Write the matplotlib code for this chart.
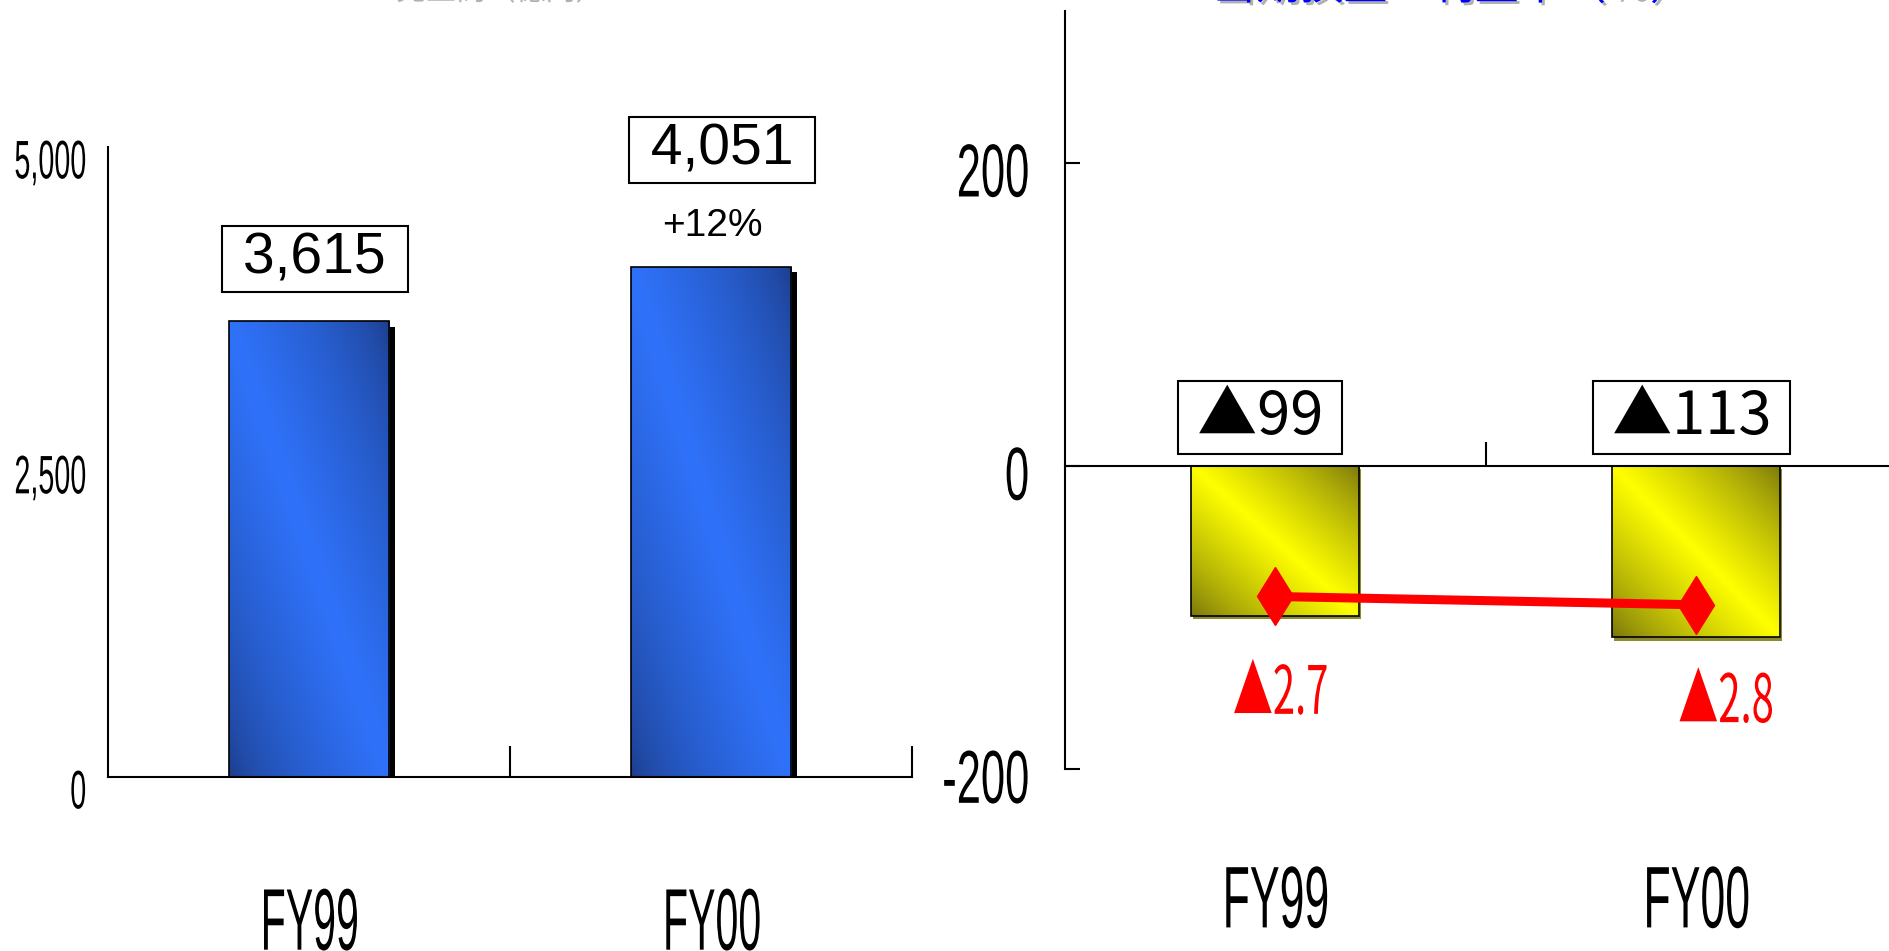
"""
Sales (FY99 vs FY00) and net income / margin, two panels side by side.
Recreated from a slide chart; the original used a tall condensed gothic face.
"""

import matplotlib
matplotlib.use("Agg")

import matplotlib.pyplot as plt
import matplotlib.patheffects as pe
from matplotlib.transforms import Affine2D, ScaledTranslation
import numpy as np

# ── data ────────────────────────────────────────────────────────────────────
years = ["FY99", "FY00"]
sales = [3615, 4051]            # 売上高
sales_growth = "+12%"
net_income = [-99, -113]        # 当期損益
net_margin = [-2.7, -2.8]       # 利益率 (%)
sales_ticks = [0, 2500, 5000]
income_ticks = [-200, 0, 200]
titles = ["売上高（億円）", "当期損益・利益率（％）"]

NARROW = ["Liberation Sans Narrow", "Liberation Sans", "DejaVu Sans"]
REG = ["Liberation Sans", "DejaVu Sans"]
CJK = ["Noto Sans CJK JP", "DejaVu Sans"]

plt.rcParams["font.family"] = NARROW


class Squeeze(pe.AbstractPathEffect):
    """Squash text glyphs horizontally about an anchor."""

    def __init__(self, sx=0.65, anchor="center"):
        super().__init__()
        self.sx = sx
        self.anchor = anchor

    def draw_path(self, renderer, gc, tpath, affine, rgbFace=None):
        ext = tpath.get_extents()
        cx = {"center": (ext.x0 + ext.x1) / 2, "right": ext.x1, "left": ext.x0}[self.anchor]
        squash = Affine2D().translate(-cx, 0).scale(self.sx, 1).translate(cx, 0)
        renderer.draw_path(gc, tpath, squash + affine, rgbFace)


def fmt_signed(v, nd=0):
    s = f"{abs(v):,.{nd}f}"
    return ("▲" + s) if v < 0 else s


def gradient_bars(ax, bars, dark, bright, gamma=1.0):
    dark = np.array(matplotlib.colors.to_rgb(dark))
    bright = np.array(matplotlib.colors.to_rgb(bright))
    u = np.linspace(0, 1, 200)
    U, V = np.meshgrid(u, u)
    s = (1 - np.abs(U + V - 1)) ** gamma
    img = dark + (bright - dark) * s[..., None]
    for b in bars:
        x0, y0, w, h = b.get_x(), b.get_y(), b.get_width(), b.get_height()
        im = ax.imshow(img, extent=(x0, x0 + w, min(y0, y0 + h), max(y0, y0 + h)),
                       origin="lower", aspect="auto", interpolation="bilinear", zorder=2.5)
        im.set_clip_path(b)


def shift_labels(fig, labels, dy_px, sx, anchor):
    for lab in labels:
        lab.set_path_effects([Squeeze(sx, anchor)])
        if dy_px:
            lab.set_verticalalignment("baseline")
            lab.set_transform(lab.get_transform()
                              + ScaledTranslation(0, -dy_px / fig.dpi, fig.dpi_scale_trans))


fig = plt.figure(figsize=(18.89, 9.51), dpi=100)
x = np.arange(len(years))

# ── left: sales ─────────────────────────────────────────────────────────────
ax1 = fig.add_axes([0.0572, 0.183, 0.4256, 0.6625])
bars1 = ax1.bar(x, sales, width=0.4, color="#2f6ff5", zorder=2,
                path_effects=[pe.SimplePatchShadow(offset=(4, -4), shadow_rgbFace="black", alpha=1),
                              pe.Normal()])
gradient_bars(ax1, bars1, "#1b3b85", "#2f72fa", 0.6)
ax1.bar(x, sales, width=0.4, fill=False, edgecolor="black", linewidth=1.2, zorder=3)
ax1.set_xlim(-0.5, 1.5)
ax1.set_ylim(0, 5000)
for side in ["top", "right"]:
    ax1.spines[side].set_visible(False)
for side in ["left", "bottom"]:
    ax1.spines[side].set_linewidth(1.5)

ax1.set_yticks(sales_ticks, [f"{t:,}" for t in sales_ticks])
ax1.tick_params(axis="y", length=0, pad=15, labelsize=39)
ax1.set_xticks(x, years)
ax1.tick_params(axis="x", length=0, pad=79, labelsize=63)
ax1.set_xticks([0.5, 1.5], minor=True)
ax1.tick_params(axis="x", which="minor", direction="in", length=22, width=1.5)
shift_labels(fig, ax1.get_yticklabels(), 12 + 0.716 * 39 * 100 / 72 / 2, 0.53, "right")
shift_labels(fig, ax1.get_xticklabels(), 0, 0.47, "center")

box = dict(boxstyle="square,pad=0.1", fc="white", ec="black", lw=1.5)
for xi, v, off in zip(x, sales, [(4, 45), (8, 84)]):
    ax1.annotate(f" {v:,} ", (xi, v), xytext=off, textcoords="offset points",
                 ha="center", va="center", fontsize=41, family=REG, bbox=box)
ax1.annotate(sales_growth, (x[1], sales[1]), xytext=(1, 29), textcoords="offset points",
             ha="center", va="center", fontsize=28, family=REG)

# ── right: net income + margin ──────────────────────────────────────────────
ax2 = fig.add_axes([0.5638, 0.1914, 0.4452, 0.797])
bars2 = ax2.bar(x, net_income, width=0.4, color="yellow", zorder=2,
                path_effects=[pe.SimplePatchShadow(offset=(1.5, -2.5), shadow_rgbFace="#8c8a2a", alpha=1),
                              pe.Normal()])
gradient_bars(ax2, bars2, "#77740c", "#ffff00", 0.8)
ax2.bar(x, net_income, width=0.4, fill=False, edgecolor="black", linewidth=1.2, zorder=3)
ax2.set_xlim(-0.5, 1.5)
ax2.set_ylim(-200, 300)
for side in ["top", "right"]:
    ax2.spines[side].set_visible(False)
ax2.spines["bottom"].set_position(("data", 0))
for side in ["left", "bottom"]:
    ax2.spines[side].set_linewidth(1.5)

ax2.set_yticks(income_ticks, [str(t) for t in income_ticks])
ax2.tick_params(axis="y", direction="in", length=11, width=1.5, pad=25, labelsize=54)
ax2.set_xticks(x, years)
ax2.tick_params(axis="x", length=0, pad=287, labelsize=63)
ax2.set_xticks([0.5, 1.5], minor=True)
ax2.tick_params(axis="x", which="minor", direction="in", length=17, width=1.5)
shift_labels(fig, ax2.get_yticklabels(), 7 + 0.716 * 54 * 100 / 72 / 2, 0.58, "right")
shift_labels(fig, ax2.get_xticklabels(), 0, 0.51, "center")

for xi, v, dx in zip(x, net_income, [-11, -3]):
    ax2.annotate(f" {fmt_signed(v)} ", (xi, 0), xytext=(dx, 35), textcoords="offset points",
                 ha="center", va="center", fontsize=43, family=CJK, bbox=box)

ax3 = ax2.twinx()
ax3.set_ylim(-4.78, 4.36)
ax3.plot(x, net_margin, color="red", lw=6.5, marker="d", ms=30, mec="red", mfc="red")
ax3.axis("off")
for xi, v, dx in zip(x, net_margin, [4, 22]):
    ax3.annotate(fmt_signed(v, 1), (xi, v), xytext=(dx, -71), textcoords="offset points",
                 ha="center", va="center", fontsize=48, color="red", family=CJK,
                 path_effects=[Squeeze(0.6, "center")])

# ── slide titles, cut off by the top edge (only their lower strokes show) ───
shadow = [pe.withSimplePatchShadow(offset=(2, -2), shadow_rgbFace="#b0b0b0", alpha=1)]
for xc, t, fs, base in zip([498 / 1889, 1453 / 1889], titles, [21.5, 31.5], [-3, -1]):
    fig.text(xc, 1 - base / 951, t, ha="center", va="baseline", fontsize=fs, color="#0000ff",
             family=CJK, path_effects=shadow)

fig.savefig("out.png", dpi=100)
